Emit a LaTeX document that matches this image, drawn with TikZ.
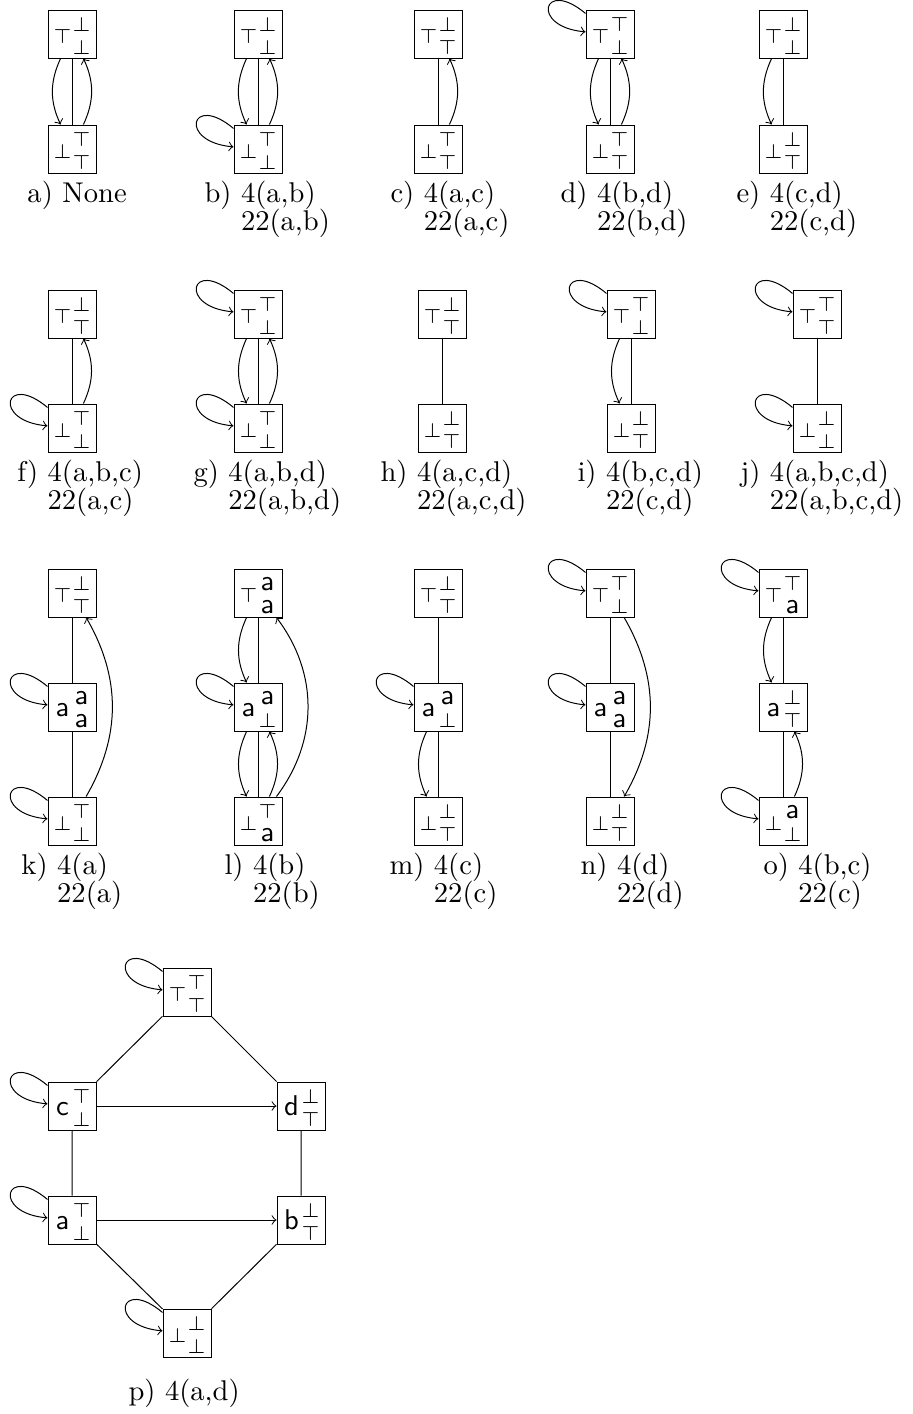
\documentclass[tikz,border=0pt]{standalone}
\usepackage{tikz}

\renewcommand{\arraystretch}{0.64}
\newcommand{\tp}{$\scriptstyle\top$}
\newcommand{\bt}{$\scriptstyle\bot$}
\newcommand{\val}[3]{\makebox[6.7pt]{\raisebox{-3.4pt}{#1}}\makebox[6.7pt]{\makebox[0pt]{\raisebox{0.8pt}{#2}}\makebox[0pt]{\raisebox{-7.1pt}{#3}}}}
\newcommand{\capt}[3]{#1 \begin{tabular}[t]{@{}l@{}}#2\\#3\end{tabular}}

\begin{document}
\begin{tikzpicture}[x=0.35pt,y=0.35pt,line width=0.35pt,
      box/.style={draw,inner sep=0pt,minimum size=16.8pt,text height=8.4pt,text depth=8.4pt,font=\sffamily},
      subcap/.style={anchor=base west,inner sep=0pt},
      self/.style={->,out=140,in=175,distance=19.6pt}]
      \useasboundingbox (0,0) rectangle (913,-1414);

      % first row
      \node[box] (a1) at (72,-34) {\val{\tp}{\bt}{\bt}};
      \node[box] (a2) at (72,-149) {\val{\bt}{\tp}{\tp}};
      \draw (a1) -- (a2);
      \draw[->] (a1) to[bend right=25] (a2);
      \draw[->] (a2) to[bend right=25] (a1);
      \node[subcap] (ca) at (27,-202) {a) None};

      \node[box] (b1) at (258,-34) {\val{\tp}{\bt}{\bt}};
      \node[box] (b2) at (258,-149) {\val{\bt}{\tp}{\bt}};
      \draw (b1) -- (b2);
      \draw[->] (b1) to[bend right=25] (b2);
      \draw[->] (b2) to[bend right=25] (b1);
      \draw[self] (b2) to (b2);
      \node[subcap] (cb) at (204,-202) {\capt{b)}{4(a,b)}{22(a,b)}};

      \node[box] (c1) at (438,-34) {\val{\tp}{\bt}{\tp}};
      \node[box] (c2) at (438,-149) {\val{\bt}{\tp}{\tp}};
      \draw (c1) -- (c2);
      \draw[->] (c2) to[bend right=25] (c1);
      \node[subcap] (cc) at (390,-202) {\capt{c)}{4(a,c)}{22(a,c)}};

      \node[box] (d1) at (610,-34) {\val{\tp}{\tp}{\bt}};
      \node[box] (d2) at (610,-149) {\val{\bt}{\tp}{\tp}};
      \draw (d1) -- (d2);
      \draw[->] (d1) to[bend right=25] (d2);
      \draw[->] (d2) to[bend right=25] (d1);
      \draw[self] (d1) to (d1);
      \node[subcap] (cd) at (560,-202) {\capt{d)}{4(b,d)}{22(b,d)}};

      \node[box] (e1) at (783,-34) {\val{\tp}{\bt}{\bt}};
      \node[box] (e2) at (783,-149) {\val{\bt}{\bt}{\tp}};
      \draw (e1) -- (e2);
      \draw[->] (e1) to[bend right=25] (e2);
      \node[subcap] (ce) at (736,-202) {\capt{e)}{4(c,d)}{22(c,d)}};

      % second row
      \node[box] (f1) at (72,-314) {\val{\tp}{\bt}{\tp}};
      \node[box] (f2) at (72,-428) {\val{\bt}{\tp}{\bt}};
      \draw (f1) -- (f2);
      \draw[->] (f2) to[bend right=25] (f1);
      \draw[self] (f2) to (f2);
      \node[subcap] (cf) at (17,-481) {\capt{f)}{4(a,b,c)}{22(a,c)}};

      \node[box] (g1) at (258,-314) {\val{\tp}{\tp}{\bt}};
      \node[box] (g2) at (258,-428) {\val{\bt}{\tp}{\bt}};
      \draw (g1) -- (g2);
      \draw[->] (g1) to[bend right=25] (g2);
      \draw[->] (g2) to[bend right=25] (g1);
      \draw[self] (g1) to (g1);
      \draw[self] (g2) to (g2);
      \node[subcap] (cg) at (193,-481) {\capt{g)}{4(a,b,d)}{22(a,b,d)}};

      \node[box] (h1) at (442,-314) {\val{\tp}{\bt}{\tp}};
      \node[box] (h2) at (442,-428) {\val{\bt}{\bt}{\tp}};
      \draw (h1) -- (h2);
      \node[subcap] (ch) at (380,-481) {\capt{h)}{4(a,c,d)}{22(a,c,d)}};

      \node[box] (i1) at (631,-314) {\val{\tp}{\tp}{\bt}};
      \node[box] (i2) at (631,-428) {\val{\bt}{\bt}{\tp}};
      \draw (i1) -- (i2);
      \draw[->] (i1) to[bend right=25] (i2);
      \draw[self] (i1) to (i1);
      \node[subcap] (ci) at (577,-481) {\capt{i)}{4(b,c,d)}{22(c,d)}};

      \node[box] (j1) at (817,-314) {\val{\tp}{\tp}{\tp}};
      \node[box] (j2) at (817,-428) {\val{\bt}{\bt}{\bt}};
      \draw (j1) -- (j2);
      \draw[self] (j1) to (j1);
      \draw[self] (j2) to (j2);
      \node[subcap] (cj) at (740,-481) {\capt{j)}{4(a,b,c,d)}{22(a,b,c,d)}};

      % third row
      \node[box] (k1) at (72,-593) {\val{\tp}{\bt}{\tp}};
      \node[box] (k2) at (72,-707) {\val{a}{a}{a}};
      \node[box] (k3) at (72,-821) {\val{\bt}{\tp}{\bt}};
      \draw (k1) -- (k2) -- (k3);
      \draw[->] (k3) to[bend right=30] (k1);
      \draw[self] (k2) to (k2);
      \draw[self] (k3) to (k3);
      \node[subcap] (ck) at (21,-874) {\capt{k)}{4(a)}{22(a)}};

      \node[box] (l1) at (258,-593) {\val{\tp}{a}{a}};
      \node[box] (l2) at (258,-707) {\val{a}{a}{\bt}};
      \node[box] (l3) at (258,-821) {\val{\bt}{\tp}{a}};
      \draw (l1) -- (l2) -- (l3);
      \draw[->] (l1) to[bend right=25] (l2);
      \draw[->] (l2) to[bend right=25] (l3);
      \draw[->] (l3) to[bend right=25] (l2);
      \draw[->] (l3) to[bend right=37] (l1);
      \draw[self] (l2) to (l2);
      \node[subcap] (cl) at (224,-874) {\capt{l)}{4(b)}{22(b)}};

      \node[box] (m1) at (438,-593) {\val{\tp}{\bt}{\tp}};
      \node[box] (m2) at (438,-707) {\val{a}{a}{\bt}};
      \node[box] (m3) at (438,-821) {\val{\bt}{\bt}{\tp}};
      \draw (m1) -- (m2) -- (m3);
      \draw[->] (m2) to[bend right=25] (m3);
      \draw[self] (m2) to (m2);
      \node[subcap] (cm) at (389,-874) {\capt{m)}{4(c)}{22(c)}};

      \node[box] (n1) at (610,-593) {\val{\tp}{\tp}{\bt}};
      \node[box] (n2) at (610,-707) {\val{a}{a}{a}};
      \node[box] (n3) at (610,-821) {\val{\bt}{\bt}{\tp}};
      \draw (n1) -- (n2) -- (n3);
      \draw[->] (n1) to[bend left=30] (n3);
      \draw[self] (n1) to (n1);
      \draw[self] (n2) to (n2);
      \node[subcap] (cn) at (580,-874) {\capt{n)}{4(d)}{22(d)}};

      \node[box] (o1) at (783,-593) {\val{\tp}{\tp}{a}};
      \node[box] (o2) at (783,-707) {\val{a}{\bt}{\tp}};
      \node[box] (o3) at (783,-821) {\val{\bt}{a}{\bt}};
      \draw (o1) -- (o2) -- (o3);
      \draw[->] (o1) to[bend right=25] (o2);
      \draw[->] (o3) to[bend right=25] (o2);
      \draw[self] (o1) to (o1);
      \draw[self] (o3) to (o3);
      \node[subcap] (co) at (763,-874) {\capt{o)}{4(b,c)}{22(c)}};

      % last diagram
      \node[box] (top) at (187,-992) {\val{\tp}{\tp}{\tp}};
      \node[box] (pc) at (72,-1106) {\val{c}{\tp}{\bt}};
      \node[box] (pd) at (301,-1106) {\val{d}{\bt}{\tp}};
      \node[box] (pa) at (72,-1220) {\val{a}{\tp}{\bt}};
      \node[box] (pb) at (301,-1220) {\val{b}{\bt}{\tp}};
      \node[box] (bot) at (187,-1333) {\val{\bt}{\bt}{\bt}};
      \draw (top) -- (pc) -- (pa) -- (bot) -- (pb) -- (pd) -- (top);
      \draw[->] (pc) -- (pd);
      \draw[->] (pa) -- (pb);
      \draw[self] (top) to (top);
      \draw[self] (pc) to (pc);
      \draw[self] (pa) to (pa);
      \draw[self] (bot) to (bot);
      \node[subcap] (cp) at (128,-1400) {p) 4(a,d)};
    \end{tikzpicture}
\end{document}
